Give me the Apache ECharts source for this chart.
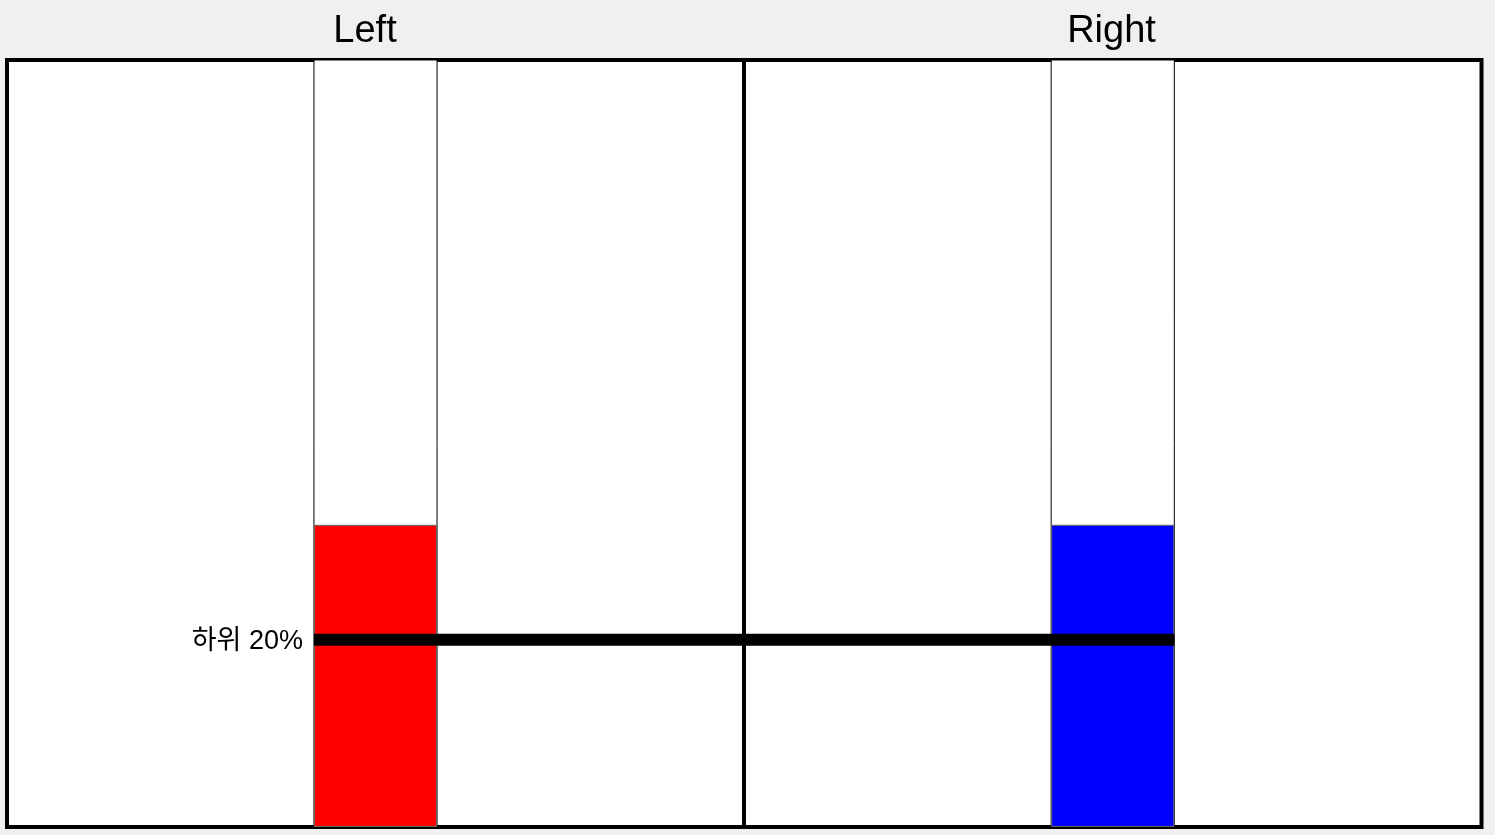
<!DOCTYPE html>
<html>
<head>
<meta charset="utf-8">
<script src="https://cdn.jsdelivr.net/npm/echarts@6/dist/echarts.min.js"></script>
<style>
html,body{margin:0;padding:0;background:#f0f0f0;}
#chart{width:1495px;height:835px;}
</style>
</head>
<body>
<div id="chart"></div>
<script>
// ---- data ----
const panelTitles = ['Left', 'Right'];
const categories = ['A'];
const leftValues = [39.4];
const rightValues = [39.4];
const thresholdValue = 24.4;
const thresholdLabel = '하위 20%';
const yMin = 0;
const yMax = 100;

const barColors = ['#ff0000', '#0000ff'];
const BAR_FRAC = 0.167;
const FONT = '"Liberation Sans", Arial, "Noto Sans CJK KR", sans-serif';

const chart = echarts.init(document.getElementById('chart'), null, {renderer: 'canvas'});

const grids = [
  {left: 7, top: 60, width: 737, height: 767},
  {left: 744, top: 60, width: 737.5, height: 767}
];

function thresholdRender(side) {
  return function (params, api) {
    const c = api.coord([0, api.value(1)]);
    const band = api.size([1, 0])[0];
    const half = band * BAR_FRAC / 2;
    const cs = params.coordSys;
    let x1, x2;
    if (side === 0) { x1 = c[0] - half; x2 = cs.x + cs.width; }
    else { x1 = cs.x; x2 = c[0] + half; }
    const children = [{
      type: 'line',
      shape: {x1: x1, y1: c[1], x2: x2, y2: c[1]},
      style: {stroke: '#000', lineWidth: 12}
    }];
    if (side === 0) {
      children.push({
        type: 'text',
        x: x1 - 11,
        y: c[1] + 1.5,
        style: {
          text: thresholdLabel,
          fill: '#000',
          font: '27px ' + FONT,
          textAlign: 'right',
          textVerticalAlign: 'middle'
        }
      });
    }
    return {type: 'group', children: children};
  };
}

const seriesVals = [leftValues, rightValues];

const option = {
  backgroundColor: '#f0f0f0',
  animation: false,
  grid: grids.map(g => Object.assign({
    show: true, backgroundColor: '#ffffff', borderColor: '#000', borderWidth: 4,
    containLabel: false
  }, g)),
  xAxis: grids.map((g, i) => ({
    type: 'category', gridIndex: i, data: categories, show: false
  })),
  yAxis: grids.map((g, i) => ({
    type: 'value', gridIndex: i, min: yMin, max: yMax, show: false
  })),
  graphic: panelTitles.map((t, i) => ({
    type: 'text',
    x: i === 0 ? 365 : 1111.5,
    y: 32,
    style: {
      text: t, fill: '#000', font: '38px ' + FONT,
      textAlign: 'center', textVerticalAlign: 'middle'
    },
    z: 10
  })),
  series: [
    ...seriesVals.map((vals, i) => ({
      type: 'bar',
      xAxisIndex: i, yAxisIndex: i,
      data: vals,
      barWidth: (BAR_FRAC * 100) + '%',
      showBackground: true,
      backgroundStyle: {color: '#ffffff', borderColor: '#000', borderWidth: 1, opacity: 1},
      itemStyle: {color: barColors[i], borderColor: '#666', borderWidth: 1},
      z: 2
    })),
    ...[0, 1].map(i => ({
      type: 'custom',
      xAxisIndex: i, yAxisIndex: i,
      data: [[0, thresholdValue]],
      encode: {x: 0, y: 1},
      renderItem: thresholdRender(i),
      clip: false,
      z: 5
    }))
  ]
};
chart.setOption(option);
</script>
</body>
</html>
